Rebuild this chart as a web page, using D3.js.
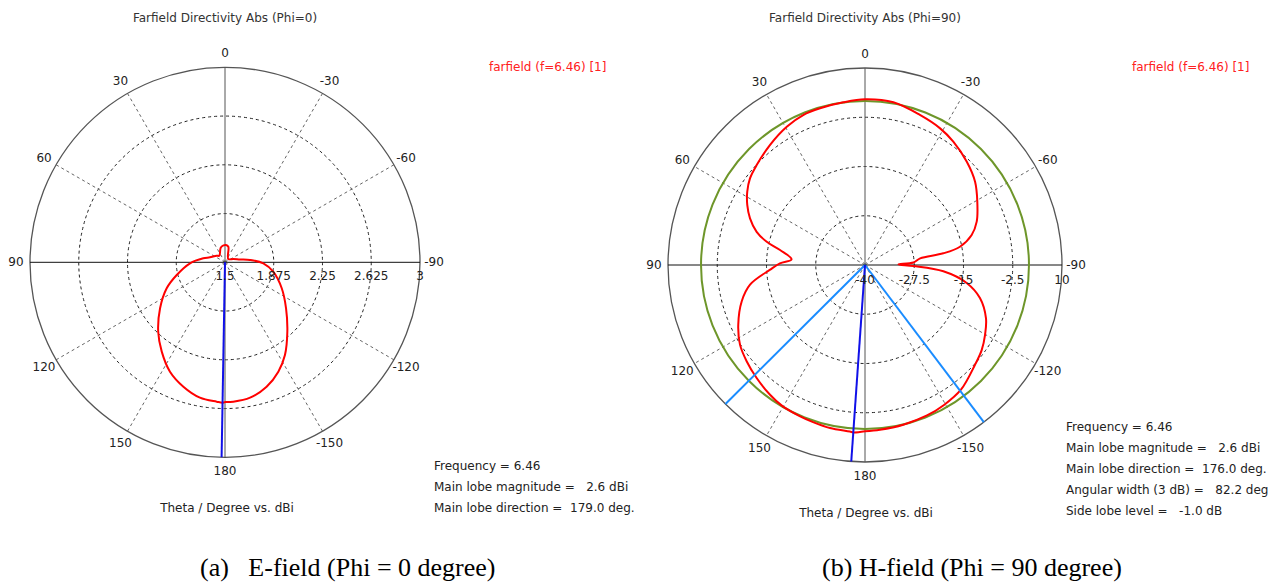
<!DOCTYPE html>
<html><head><meta charset="utf-8">
<script src="https://cdn.jsdelivr.net/npm/d3@7"></script>
<style>
body{margin:0;background:#fff}
text{font-family:"DejaVu Sans",sans-serif;font-size:12px;fill:#222}
</style>
</head><body>
<svg id="c" width="1287" height="585"></svg>
<script>
// ---------- data ----------
const angleTicks = [0,30,60,90,120,150,180,-150,-120,-90,-60,-30];

// (a) E-field, Phi = 0 cut (theta in degrees, directivity in dBi)
const eTheta = [-180,-176.6,-169.5,-161.5,-154,-147.1,-138.1,-127,-114.6,-101,-91.5,-84.7,-79.4,-68.3,-45,-12,-3,5,16.4,40.8,51.5,71.6,79.6,91.6,104.7,114,125.3,136.1,144.7,153.3,161.5,169.5,176.6,179,180];
const eDbi   = [2.575,2.574,2.559,2.509,2.436,2.349,2.218,2.088,1.980,1.878,1.795,1.693,1.618,1.569,1.536,1.623,1.633,1.630,1.617,1.567,1.582,1.622,1.670,1.769,1.884,1.991,2.112,2.241,2.342,2.442,2.509,2.559,2.574,2.58,2.575];
const eRadialTicks = [1.5,1.875,2.25,2.625,3];
const eRadialLabels = ["1.5","1.875","2.25","2.625","3"];
const eMainLobeDir = 179;
const eInfo = ["Frequency = 6.46","Main lobe magnitude =   2.6 dBi","Main lobe direction =  179.0 deg."];

// (b) H-field, Phi = 90 cut
const hTheta = [-180,-174.8,-166.5,-157.6,-150.7,-142.3,-132.2,-126.1,-120.1,-113.7,-106,-100,-94.6,-91.2,-89,-87,-83.1,-81.5,-79.1,-74.3,-68.8,-60.6,-52.9,-44.6,-35.6,-28.8,-20.1,-9.9,0,7.6,16,22.4,29.5,38.4,47.3,53,58.1,63,67.9,73,76.7,80,85.6,88.9,92.8,99.7,106.4,115.2,122.5,129.1,136.2,143.8,149.7,156.8,161.7,167.9,174.8,176,180];
const hDbi   = [2.2,1.98,1.68,1.3,0.8,-0.1,-2.31,-3.35,-4.77,-6.47,-9.65,-13.8,-20.05,-27.7,-31.5,-27.7,-25.9,-19.9,-15.46,-11.88,-9.59,-7.28,-4.97,-3.2,-1.5,-0.43,0.55,1.91,2.06,1.65,1.37,1.17,0.33,-1.14,-2.59,-3.45,-4.8,-6.47,-8.5,-11.24,-14.37,-18.1,-21.3,-18.4,-15.9,-10.4,-7.39,-4.45,-2.38,-1.29,-0.27,0.81,1.5,1.8,2.0,2.31,2.45,2.6,2.2];
const hRadialTicks = [-40,-27.5,-15,-2.5,10];
const hRadialLabels = ["-40","-27.5","-15","-2.5","10"];
const hMainLobeDir = 176;
const hBeamEdges = [134.9,217.1];
const hSideLobeRing = 1.62;
const hInfo = ["Frequency = 6.46","Main lobe magnitude =   2.6 dBi","Main lobe direction =  176.0 deg.","Angular width (3 dB) =   82.2 deg","Side lobe level =   -1.0 dB"];

const legendText = "farfield (f=6.46) [1]";
const xLabel = "Theta / Degree vs. dBi";

// ---------- drawing ----------
const svg = d3.select("#c");

function polar(cfg){
  const g = svg.append("g").attr("transform",`translate(${cfg.cx},${cfg.cy})`);
  const r = d3.scaleLinear().domain([cfg.ticks[0], cfg.ticks[cfg.ticks.length-1]]).range([0,cfg.R]).clamp(true);
  const ang = d3.scaleLinear().domain([0,360]).range([0,-2*Math.PI]);
  const R = cfg.R;

  g.selectAll("circle.ring").data(cfg.ticks.slice(1,-1)).join("circle")
    .attr("r",d=>r(d)).attr("fill","none").attr("stroke","#222")
    .attr("stroke-width",1).attr("stroke-dasharray","3,3");
  g.selectAll("line.spoke").data(angleTicks.filter(a=>a%90!==0)).join("line")
    .attr("x1",0).attr("y1",0)
    .attr("x2",d=>d3.pointRadial(ang(d),R)[0]).attr("y2",d=>d3.pointRadial(ang(d),R)[1])
    .attr("stroke","#666").attr("stroke-width",1).attr("stroke-dasharray","3,3");
  g.append("circle").attr("r",R).attr("fill","none").attr("stroke","#555").attr("stroke-width",1.3);
  [0,90].forEach(a=>{
    const p=d3.pointRadial(ang(a),R), q=d3.pointRadial(ang(a+180),R);
    g.append("line").attr("x1",p[0]).attr("y1",p[1]).attr("x2",q[0]).attr("y2",q[1])
      .attr("stroke",a===0?"#555":"#111").attr("stroke-width",1);
  });
  if(cfg.ring!==undefined){
    g.append("circle").attr("r",r(cfg.ring)).attr("fill","none").attr("stroke","#6e962a").attr("stroke-width",2);
  }
  const pts = cfg.theta.map((t,i)=>({t,v:cfg.vals[i]}));
  const line = d3.lineRadial().angle(d=>ang(d.t)).radius(d=>r(d.v)).curve(d3.curveCatmullRom.alpha(0.5));
  g.append("path").attr("d",line(pts)).attr("fill","none").attr("stroke","#ff0000").attr("stroke-width",2);
  (cfg.edges||[]).forEach(a=>{
    const p=d3.pointRadial(ang(a),R);
    g.append("line").attr("x1",0).attr("y1",0).attr("x2",p[0]).attr("y2",p[1])
      .attr("stroke","#1a8cff").attr("stroke-width",2);
  });
  const m=d3.pointRadial(ang(cfg.dir),R);
  g.append("line").attr("x1",0).attr("y1",0).attr("x2",m[0]).attr("y2",m[1])
    .attr("stroke","#1010e8").attr("stroke-width",2);
  g.selectAll("text.ang").data(angleTicks).join("text")
    .attr("x",d=>d3.pointRadial(ang(d),R+cfg.lo)[0])
    .attr("y",d=>d3.pointRadial(ang(d),R+cfg.lo)[1])
    .attr("text-anchor","middle").attr("dominant-baseline","central").text(d=>d);
  g.selectAll("text.rad").data(cfg.ticks).join("text")
    .attr("x",d=>r(d)).attr("y",cfg.ry)
    .attr("text-anchor","middle").attr("dominant-baseline","central")
    .text((d,i)=>cfg.labels[i]);
}

polar({cx:225,cy:262.3,R:195,ticks:eRadialTicks,labels:eRadialLabels,theta:eTheta,vals:eDbi,dir:eMainLobeDir,lo:14,ry:14});
polar({cx:865,cy:265,R:197,ticks:hRadialTicks,labels:hRadialLabels,theta:hTheta,vals:hDbi,dir:hMainLobeDir,edges:hBeamEdges,ring:hSideLobeRing,lo:14,ry:15});

function txt(x,y,s,opt={}){
  const t=svg.append("text").attr("x",x).attr("y",y).attr("dominant-baseline","central")
    .style("white-space","pre").text(s);
  if(opt.anchor) t.attr("text-anchor",opt.anchor);
  if(opt.fill) t.style("fill",opt.fill);
  if(opt.font) t.style("font-family",opt.font);
  if(opt.size) t.style("font-size",opt.size);
  return t;
}
txt(225,18,"Farfield Directivity Abs (Phi=0)",{anchor:"middle",fill:"#333"});
txt(865,18,"Farfield Directivity Abs (Phi=90)",{anchor:"middle",fill:"#333"});
txt(489,67,legendText,{fill:"#ff2020"});
txt(1132,67,legendText,{fill:"#ff2020"});
eInfo.forEach((s,i)=>txt(434,466+21*i,s));
hInfo.forEach((s,i)=>txt(1066,427+21*i,s));
txt(227,508,xLabel,{anchor:"middle"});
txt(866,513,xLabel,{anchor:"middle"});
txt(200,567,"(a)   E-field (Phi = 0 degree)",{font:'"Liberation Serif",serif',size:"26px",fill:"#000"});
txt(822,567,"(b) H-field (Phi = 90 degree)",{font:'"Liberation Serif",serif',size:"26px",fill:"#000"});
</script>
</body></html>
